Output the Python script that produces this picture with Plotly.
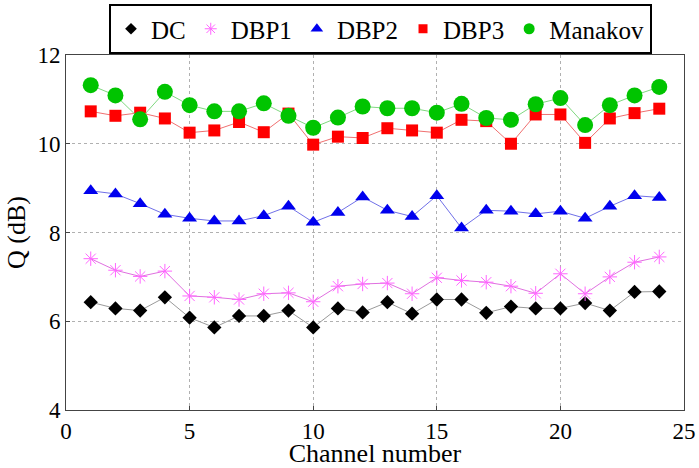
import plotly.graph_objects as go

channels = list(range(1, 25))
dc = [6.43, 6.29, 6.24, 6.54, 6.08, 5.86, 6.12, 6.12, 6.24, 5.86, 6.29, 6.20,
      6.43, 6.17, 6.49, 6.49, 6.19, 6.33, 6.29, 6.29, 6.41, 6.24, 6.66, 6.67]
dbp1 = [7.41, 7.15, 7.01, 7.13, 6.57, 6.54, 6.49, 6.62, 6.64, 6.44, 6.79, 6.84,
        6.86, 6.62, 6.98, 6.92, 6.88, 6.79, 6.63, 7.07, 6.62, 7.00, 7.33, 7.45]
dbp2 = [8.94, 8.87, 8.65, 8.41, 8.32, 8.26, 8.26, 8.38, 8.59, 8.23, 8.45, 8.80,
        8.50, 8.36, 8.83, 8.10, 8.50, 8.48, 8.42, 8.48, 8.32, 8.59, 8.83, 8.79]
dbp3 = [10.73, 10.63, 10.70, 10.57, 10.25, 10.30, 10.49, 10.26, 10.68, 9.98, 10.16, 10.13,
        10.35, 10.30, 10.25, 10.54, 10.51, 10.00, 10.66, 10.66, 10.02, 10.57, 10.69, 10.79]
manakov = [11.32, 11.09, 10.55, 11.17, 10.87, 10.73, 10.73, 10.91, 10.63, 10.36, 10.59, 10.84,
           10.80, 10.80, 10.70, 10.90, 10.58, 10.54, 10.89, 11.03, 10.42, 10.87, 11.09, 11.28]

x_ticks = [0, 5, 10, 15, 20, 25]
y_ticks = [4, 6, 8, 10, 12]

FONT = "Liberation Serif"

series = [
    ("DC", dc, "diamond", 11, 9, "black", "#9a9a9a"),
    ("DBP1", dbp1, "asterisk-open", 12, 10, "#ff66ff", "#e070e0"),
    ("DBP2", dbp2, "triangle-up", 13, 11, "#0000ee", "#7070e8"),
    ("DBP3", dbp3, "square", 12, 9, "#ff0000", "#f07070"),
    ("Manakov", manakov, "circle", 16, 11, "#00c400", "#80d880"),
]

fig = go.Figure()
for name, vals, sym, size, lsize, mcol, lcol in series:
    line = dict(color=mcol, width=1) if sym == "asterisk-open" else dict(width=0)
    fig.add_trace(go.Scatter(
        x=channels, y=vals, name=name, mode="lines+markers", showlegend=False,
        line=dict(color=lcol, width=1),
        marker=dict(symbol=sym, size=size, color=mcol, line=line),
    ))
for name, vals, sym, size, lsize, mcol, lcol in series:
    line = dict(color=mcol, width=1) if sym == "asterisk-open" else dict(width=0)
    fig.add_trace(go.Scatter(
        x=[None], y=[None], name=name, mode="markers", showlegend=True,
        marker=dict(symbol=sym, size=lsize, color=mcol, line=line),
    ))

axis_common = dict(
    showline=True, linecolor="#444444", linewidth=1, mirror=True,
    showgrid=True, gridcolor="#b0b0b0", griddash="dot", gridwidth=1,
    zeroline=False, ticks="inside", ticklen=4, tickcolor="#444444",
    tickfont=dict(family=FONT, size=23, color="black"),
    automargin=False,
)

PAPER_H = 468 - 58  # paper area height with t=0, b=58

fig.update_layout(
    width=699, height=468,
    margin=dict(l=66, r=15, t=0, b=58),
    paper_bgcolor="white", plot_bgcolor="white",
    font=dict(family=FONT, color="black"),
    showlegend=True,
    legend=dict(
        orientation="h", xref="paper", yref="paper",
        x=(109 - 66) / 618, xanchor="left", y=1 - 4 / PAPER_H, yanchor="top",
        bordercolor="black", borderwidth=2, bgcolor="white",
        font=dict(family=FONT, size=25, color="black"),
        itemwidth=30, tracegroupgap=0,
    ),
    xaxis=dict(range=[0, 25], tickvals=x_ticks,
               title=dict(text="Channel number", font=dict(family=FONT, size=26), standoff=6),
               **axis_common),
    yaxis=dict(range=[4, 12], tickvals=y_ticks, domain=[0, (PAPER_H - 55) / PAPER_H],
               title=dict(text="Q (dB)", font=dict(family=FONT, size=26), standoff=4),
               **axis_common),
)

fig.write_html("out.html", config={"displayModeBar": False},
               post_script="document.body.style.margin='0';")
